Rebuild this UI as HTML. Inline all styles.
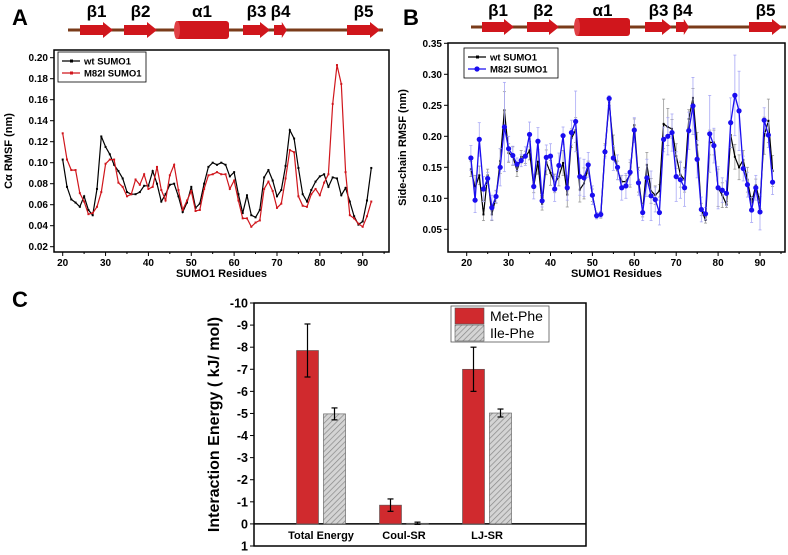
<!DOCTYPE html>
<html><head><meta charset="utf-8">
<style>
body{margin:0;background:#fff;}
svg{display:block;font-family:"Liberation Sans",Arial,sans-serif;}
</style></head>
<body>
<svg id="fig" width="788" height="555" viewBox="0 0 788 555" xmlns="http://www.w3.org/2000/svg">
<defs>
<pattern id="hatch" width="4" height="4" patternUnits="userSpaceOnUse" patternTransform="rotate(45)">
<rect width="4" height="4" fill="#d4d4d4"/><line x1="0" y1="0" x2="0" y2="4" stroke="#888" stroke-width="1.4"/>
</pattern>
</defs>
</svg>
<script>
// ---- Panel A data ----
const resA = [];for(let r=20;r<=92;r++)resA.push(r);
const wtA = [0.103,0.077,0.065,0.062,0.058,0.068,0.055,0.050,0.075,0.125,0.115,0.108,0.098,0.092,0.085,0.072,0.070,0.070,0.072,0.078,0.078,0.092,0.080,0.063,0.070,0.079,0.080,0.068,0.053,0.062,0.077,0.057,0.061,0.080,0.096,0.100,0.098,0.100,0.098,0.087,0.091,0.070,0.052,0.069,0.050,0.048,0.055,0.086,0.093,0.083,0.068,0.074,0.097,0.131,0.123,0.095,0.070,0.063,0.074,0.082,0.087,0.089,0.077,0.086,0.085,0.069,0.076,0.063,0.049,0.041,0.044,0.064,0.095];
const mutA = [0.128,0.103,0.093,0.093,0.071,0.063,0.051,0.052,0.058,0.072,0.099,0.103,0.103,0.081,0.077,0.068,0.070,0.084,0.079,0.089,0.075,0.077,0.096,0.074,0.064,0.088,0.098,0.074,0.055,0.064,0.073,0.054,0.055,0.075,0.088,0.089,0.091,0.089,0.089,0.075,0.083,0.064,0.047,0.047,0.039,0.043,0.045,0.075,0.082,0.073,0.057,0.061,0.085,0.112,0.110,0.068,0.059,0.058,0.070,0.075,0.069,0.081,0.089,0.156,0.193,0.175,0.091,0.050,0.047,0.042,0.039,0.049,0.063];
const yTicksA = [0.02,0.04,0.06,0.08,0.10,0.12,0.14,0.16,0.18,0.20];
const xTicks = [20,30,40,50,60,70,80,90];
// ---- Panel B data ----
const resB = [];for(let r=21;r<=93;r++)resB.push(r);
const wtB = [0.147,0.117,0.137,0.074,0.137,0.074,0.102,0.160,0.242,0.173,0.168,0.145,0.167,0.166,0.177,0.119,0.159,0.091,0.158,0.141,0.124,0.135,0.157,0.106,0.197,0.210,0.114,0.124,0.150,0.105,0.072,0.073,0.178,0.255,0.182,0.145,0.127,0.127,0.138,0.218,0.130,0.080,0.154,0.112,0.105,0.112,0.220,0.215,0.212,0.168,0.138,0.130,0.228,0.262,0.186,0.082,0.065,0.190,0.190,0.117,0.105,0.090,0.202,0.167,0.150,0.162,0.130,0.093,0.121,0.093,0.201,0.225,0.144];
const mutB = [0.165,0.097,0.195,0.115,0.132,0.085,0.103,0.150,0.215,0.180,0.169,0.155,0.161,0.168,0.203,0.119,0.192,0.096,0.166,0.168,0.115,0.153,0.201,0.117,0.206,0.224,0.135,0.133,0.154,0.105,0.072,0.074,0.175,0.261,0.165,0.150,0.117,0.120,0.142,0.210,0.125,0.077,0.133,0.104,0.098,0.077,0.195,0.200,0.206,0.135,0.130,0.117,0.209,0.249,0.163,0.082,0.075,0.204,0.185,0.117,0.113,0.108,0.222,0.266,0.241,0.148,0.122,0.081,0.117,0.078,0.226,0.202,0.126];
const errWtB = [0.012,0.02,0.015,0.01,0.01,0.01,0.01,0.02,0.03,0.015,0.015,0.01,0.01,0.01,0.015,0.01,0.02,0.01,0.02,0.02,0.015,0.015,0.02,0.02,0.015,0.02,0.02,0.025,0.01,0.01,0.005,0.005,0.01,0.005,0.02,0.015,0.01,0.01,0.02,0.01,0.02,0.01,0.02,0.02,0.015,0.01,0.04,0.03,0.015,0.02,0.02,0.02,0.015,0.015,0.02,0.01,0.005,0.02,0.02,0.03,0.02,0.005,0.02,0.02,0.02,0.015,0.02,0.01,0.01,0.01,0.03,0.035,0.025];
const errMutB = [0.02,0.02,0.027,0.02,0.01,0.02,0.01,0.03,0.072,0.02,0.015,0.01,0.01,0.015,0.02,0.02,0.022,0.01,0.02,0.02,0.02,0.02,0.014,0.02,0.02,0.049,0.03,0.03,0.02,0.015,0.005,0.005,0.01,0.005,0.02,0.02,0.02,0.02,0.02,0.02,0.02,0.013,0.03,0.04,0.02,0.02,0.02,0.03,0.03,0.04,0.03,0.03,0.03,0.046,0.03,0.02,0.01,0.062,0.028,0.034,0.02,0.02,0.04,0.065,0.064,0.02,0.02,0.02,0.02,0.029,0.02,0.02,0.02];
const yTicksB = [0.05,0.10,0.15,0.20,0.25,0.30,0.35];
// ---- Panel C data ----
const catsC = ["Total Energy","Coul-SR","LJ-SR"];
const metC = [-7.85,-0.85,-7.0];
const metErrC = [1.2,0.28,1.0];
const ileC = [-4.98,-0.03,-5.02];
const ileErrC = [0.27,0.05,0.18];
const yTicksC = [-10,-9,-8,-7,-6,-5,-4,-3,-2,-1,0,1];

const svg=document.getElementById('fig');
const NS="http://www.w3.org/2000/svg";
function mk(tag,attrs,parent,text){const e=document.createElementNS(NS,tag);for(const k in attrs)e.setAttribute(k,attrs[k]);if(text!==undefined)e.textContent=text;(parent||svg).appendChild(e);return e;}

// protein topology strip
function strip(g,x0,x1,y,els,labY){
  mk('line',{x1:x0,y1:y,x2:x1,y2:y,stroke:'#7a3b1a','stroke-width':3},g);
  els.forEach(el=>{
    if(el.t==='h'){
      const r=mk('rect',{x:el.a,y:y-9,width:el.b-el.a,height:18,rx:3,fill:'#d0161c'},g);
      
      mk('ellipse',{cx:el.a+2,cy:y,rx:3,ry:9,fill:'#e04045'},g);
    } else {
      const h=Math.min(10,(el.b-el.a)*0.4);
      const p=mk('polygon',{points:`${el.a},${y-5} ${el.b-h},${y-5} ${el.b-h},${y-8} ${el.b},${y} ${el.b-h},${y+8} ${el.b-h},${y+5} ${el.a},${y+5}`,fill:'#d0161c'},g);
      
    }
    const t=mk('text',{x:(el.a+el.b)/2,y:labY,'text-anchor':'middle','font-size':17,'font-weight':'bold'},g,el.l);
    
  });
}

function linePanel(o){
  const g=mk('g',{});
  
  const X=v=>o.px0+(v-20)*(o.px90-o.px0)/70;
  const Y=v=>o.py0+(v-o.v0)*(o.py1-o.py0)/(o.v1-o.v0);
  const fr=mk('rect',{x:o.L,y:o.T,width:o.R-o.L,height:o.B-o.T,fill:'none',stroke:'#000','stroke-width':1.5},g);
  
  o.yt.forEach(v=>{const y=Y(v);mk('line',{x1:o.L,y1:y,x2:o.L-4,y2:y,stroke:'#000'},g);
    const t=mk('text',{x:o.L-6,y:y+3.5,'text-anchor':'end','font-size':10,'font-weight':'bold'},g,v.toFixed(2));
    });
  xTicks.forEach(v=>{const x=X(v);mk('line',{x1:x,y1:o.B,x2:x,y2:o.B+4,stroke:'#000'},g);
    mk('line',{x1:x+o.minor,y1:o.B,x2:x+o.minor,y2:o.B+2,stroke:'#000'},g);
    const t=mk('text',{x:x,y:o.B+14,'text-anchor':'middle','font-size':10,'font-weight':'bold'},g,String(v));
    });
  const xt=mk('text',{x:(o.L+o.R)/2,y:o.B+25,'text-anchor':'middle','font-size':11,'font-weight':'bold'},g,'SUMO1 Residues');
  
  const yt=mk('text',{x:0,y:0,'text-anchor':'middle','font-size':11,'font-weight':'bold',transform:`translate(${o.ytx},${(o.T+o.B)/2}) rotate(-90)`},g,o.ytitle);
  
  o.series.forEach(s=>{
    if(s.err){s.vals.forEach((v,i)=>{const x=X(o.res[i]);
      const e=mk('line',{x1:x,y1:Y(v-s.err[i]),x2:x,y2:Y(v+s.err[i]),stroke:s.ecol,'stroke-width':0.8},g);
      
      mk('line',{x1:x-1.5,y1:Y(v-s.err[i]),x2:x+1.5,y2:Y(v-s.err[i]),stroke:s.ecol,'stroke-width':0.8},g);
      mk('line',{x1:x-1.5,y1:Y(v+s.err[i]),x2:x+1.5,y2:Y(v+s.err[i]),stroke:s.ecol,'stroke-width':0.8},g);});}
    const pts=s.vals.map((v,i)=>X(o.res[i]).toFixed(1)+','+Y(v).toFixed(1)).join(' ');
    const pl=mk('polyline',{points:pts,fill:'none',stroke:s.col,'stroke-width':s.w},g);
    
    s.vals.forEach((v,i)=>{const x=X(o.res[i]),y=Y(v);
      const m=s.circ?mk('circle',{cx:x,cy:y,r:2.6,fill:s.col},g):mk('rect',{x:x-1,y:y-1,width:2,height:2,fill:s.col},g);
      });
  });
  // legend
  const lg=mk('g',{},g);
  mk('rect',{x:o.lx,y:o.ly,width:o.lw,height:30,fill:'#fff',stroke:'#000','stroke-width':0.8},lg);
  o.series.forEach((s,i)=>{const y=o.ly+9+i*12;
    mk('line',{x1:o.lx+4,y1:y,x2:o.lx+22,y2:y,stroke:s.col,'stroke-width':1.3},lg);
    if(s.circ)mk('circle',{cx:o.lx+13,cy:y,r:2.6,fill:s.col},lg);else mk('rect',{x:o.lx+12,y:y-1.5,width:3,height:3,fill:s.col},lg);
    const t=mk('text',{x:o.lx+26,y:y+3.5,'font-size':9.5,'font-weight':'bold'},lg,s.label);
    });
}

// Panel A
const pa=mk('text',{x:12,y:25,'font-size':22,'font-weight':'bold'},svg,'A');
const sA=mk('g',{});
strip(sA,68,383,30,[{t:'s',a:80,b:113,l:'β1',n:'b1'},{t:'s',a:124,b:157,l:'β2',n:'b2'},{t:'h',a:175,b:229,l:'α1',n:'a1'},{t:'s',a:243,b:270,l:'β3',n:'b3'},{t:'s',a:274,b:287,l:'β4',n:'b4'},{t:'s',a:347,b:380,l:'β5',n:'b5'}],17);
linePanel({name:'panel-a-chart',L:54,R:389,T:50,B:252,px0:62.7,px90:362.7,py0:57.7,py1:246.7,v0:0.20,v1:0.02,yt:yTicksA,minor:21.4,res:resA,ytx:12,ytitle:'Cα RMSF (nm)',lx:58,ly:52,lw:88,
  series:[{name:'line-wt',label:'wt SUMO1',vals:wtA,col:'#000',w:1.2},{name:'line-m82i',label:'M82I SUMO1',vals:mutA,col:'#d0161c',w:1.2}]});

// Panel B
const pb=mk('text',{x:403,y:25,'font-size':22,'font-weight':'bold'},svg,'B');
const sB=mk('g',{});
strip(sB,471,786,27,[{t:'s',a:482,b:514,l:'β1',n:'b1'},{t:'s',a:527,b:559,l:'β2',n:'b2'},{t:'h',a:575,b:630,l:'α1',n:'a1'},{t:'s',a:645,b:672,l:'β3',n:'b3'},{t:'s',a:676,b:689,l:'β4',n:'b4'},{t:'s',a:749,b:782,l:'β5',n:'b5'}],16);
linePanel({name:'panel-b-chart',L:448,R:785,T:43,B:252,px0:466.7,px90:760,py0:43.3,py1:229.3,v0:0.35,v1:0.05,yt:yTicksB,minor:21,res:resB,ytx:406,ytitle:'Side-chain RMSF (nm)',lx:464,ly:48,lw:94,
  series:[{name:'line-wt',label:'wt SUMO1',vals:wtB,err:errWtB,ecol:'#999',col:'#000',w:1.2},{name:'line-m82i',label:'M82I SUMO1',vals:mutB,err:errMutB,ecol:'#a9a9f5',col:'#1a0df0',w:1.3,circ:true}]});

// Panel C
const pc=mk('text',{x:12,y:307,'font-size':22,'font-weight':'bold'},svg,'C');
(function(){
  const g=mk('g',{});
  const L=254,R=586,T=303,B=546;
  const Y=v=>T+(v-(-10))*(B-T)/11;
  const cx=[321,404,487],bw=22;
  mk('rect',{x:L,y:T,width:R-L,height:B-T,fill:'none',stroke:'#000','stroke-width':1.5},g);
  mk('line',{x1:L,y1:Y(0),x2:R,y2:Y(0),stroke:'#000','stroke-width':1.5},g);
  yTicksC.forEach(v=>{const y=Y(v);mk('line',{x1:L,y1:y,x2:L-4,y2:y,stroke:'#000'},g);
    const t=mk('text',{x:L-6,y:y+4.5,'text-anchor':'end','font-size':12.5,'font-weight':'bold'},g,String(v));
    });
  const yt=mk('text',{x:0,y:0,'text-anchor':'middle','font-size':16,'font-weight':'bold',transform:`translate(219,${(T+B)/2}) rotate(-90)`},g,'Interaction Energy ( kJ/ mol)');
  
  catsC.forEach((c,i)=>{
    const t=mk('text',{x:cx[i],y:539,'text-anchor':'middle','font-size':11,'font-weight':'bold'},g,c);
    
    [[metC,metErrC,'#d02a2e',-bw-2.5,'bar-met-phe'],[ileC,ileErrC,'url(#hatch)',2.5,'bar-ile-phe']].forEach(([vals,errs,fill,off,nm])=>{
      const v=vals[i],x=cx[i]+off,y0=Y(0),y1=Y(v);
      const b=mk('rect',{x:x,y:Math.min(y0,y1),width:bw,height:Math.max(Math.abs(y1-y0),0.5),fill:fill,stroke:'#555','stroke-width':0.6},g);
      
      const xm=x+bw/2,ea=Y(v-errs[i]),eb=Y(v+errs[i]);
      const e=mk('line',{x1:xm,y1:ea,x2:xm,y2:eb,stroke:'#000','stroke-width':1.2},g);
      
      mk('line',{x1:xm-3,y1:ea,x2:xm+3,y2:ea,stroke:'#000','stroke-width':1.2},g);
      mk('line',{x1:xm-3,y1:eb,x2:xm+3,y2:eb,stroke:'#000','stroke-width':1.2},g);
    });
  });
  const lg=mk('g',{},g);
  mk('rect',{x:451,y:306,width:98,height:36,fill:'#fff',stroke:'#555','stroke-width':0.8},lg);
  mk('rect',{x:455,y:308,width:29,height:16,fill:'#d02a2e',stroke:'#555','stroke-width':0.6},lg);
  mk('rect',{x:455,y:325,width:29,height:16,fill:'url(#hatch)',stroke:'#555','stroke-width':0.6},lg);
  const l1=mk('text',{x:490,y:321,'font-size':14},lg,'Met-Phe');
  const l2=mk('text',{x:490,y:338,'font-size':14},lg,'Ile-Phe');
})();
</script>
</body></html>
